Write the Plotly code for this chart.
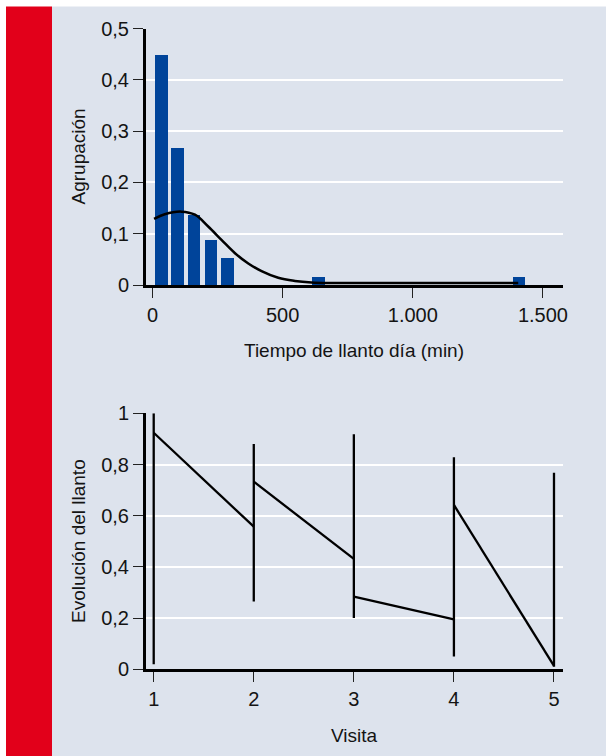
import plotly.graph_objects as go

# Histogram of daily crying time (minutes) and fitted curve
bin_centers = [34, 96, 160, 224, 288, 638, 1408]
bin_freq = [0.449, 0.268, 0.137, 0.089, 0.054, 0.016, 0.016]
curve_x = [6, 47, 111, 163, 214, 265, 317, 368, 419, 483, 547, 611, 680, 1000, 1405]
curve_y = [0.129, 0.138, 0.143, 0.137, 0.114, 0.088, 0.062, 0.042, 0.027,
           0.014, 0.008, 0.005, 0.004, 0.004, 0.004]
top_xticks = [0, 500, 1000, 1500]
top_xlabels = ["0", "500", "1.000", "1.500"]
top_yticks = [0, 0.1, 0.2, 0.3, 0.4, 0.5]
top_ylabels = ["0", "0,1", "0,2", "0,3", "0,4", "0,5"]

# Crying evolution per visit: range bars and visit-to-visit segments
visits = [1, 2, 3, 4, 5]
range_low = [0.02, 0.265, 0.20, 0.05, 0.01]
range_high = [1.0, 0.88, 0.918, 0.828, 0.768]
seg_start = [0.924, 0.733, 0.284, 0.642]
seg_end = [0.557, 0.431, 0.195, 0.013]
bot_yticks = [0, 0.2, 0.4, 0.6, 0.8, 1]
bot_ylabels = ["0", "0,2", "0,4", "0,6", "0,8", "1"]

W, H = 606, 756
BG = "#dde3ed"
RED = "#e2001a"
BAR = "#00449a"
INK = "#141414"
FONT = "Liberation Sans, Arial, sans-serif"
TICK_SIZE = 20
TITLE_SIZE = 19

def px_x(x):
    return x / W

def px_y(y):
    return 1 - y / H

fig = go.Figure()

fig.add_trace(go.Bar(
    x=bin_centers, y=bin_freq, width=48,
    marker=dict(color=BAR, line=dict(width=0)),
    xaxis="x", yaxis="y", showlegend=False,
))
fig.add_trace(go.Scatter(
    x=curve_x, y=curve_y, mode="lines",
    line=dict(color="black", width=2.5, shape="spline", smoothing=1),
    xaxis="x", yaxis="y", showlegend=False,
))

for v, lo, hi in zip(visits, range_low, range_high):
    fig.add_trace(go.Scatter(
        x=[v, v], y=[lo, hi], mode="lines",
        line=dict(color="black", width=2.3),
        xaxis="x2", yaxis="y2", showlegend=False,
    ))
for i in range(len(seg_start)):
    fig.add_trace(go.Scatter(
        x=[visits[i], visits[i + 1]], y=[seg_start[i], seg_end[i]], mode="lines",
        line=dict(color="black", width=2.3),
        xaxis="x2", yaxis="y2", showlegend=False,
    ))

axis_common = dict(
    showline=True, linecolor="black", linewidth=3,
    ticks="outside", ticklen=10, tickwidth=1, tickcolor="#222222",
    tickfont=dict(family=FONT, size=TICK_SIZE, color=INK),
    zeroline=False, automargin=False,
)

xdom = [px_x(146), px_x(563)]
fig.update_layout(
    template="none",
    width=W, height=H,
    margin=dict(l=0, r=0, t=0, b=0, pad=0),
    paper_bgcolor="white",
    plot_bgcolor=BG,
    separators=",.",
    bargap=0,
    xaxis=dict(domain=xdom, range=[-25, 1577], tickvals=top_xticks, ticktext=top_xlabels,
               showgrid=False, anchor="y", **axis_common),
    yaxis=dict(domain=[px_y(285), px_y(28.5)], range=[0, 0.5], tickvals=top_yticks,
               ticktext=top_ylabels, showgrid=True, gridcolor="white", gridwidth=1.5,
               anchor="x", **axis_common),
    xaxis2=dict(domain=xdom, range=[0.923, 5.09], tickvals=visits,
                ticktext=[str(v) for v in visits], showgrid=False, anchor="y2", **axis_common),
    yaxis2=dict(domain=[px_y(669.3), px_y(413.3)], range=[0, 1], tickvals=bot_yticks,
                ticktext=bot_ylabels, showgrid=True, gridcolor="white", gridwidth=1.5,
                anchor="x2", **axis_common),
    shapes=[
        dict(type="rect", xref="paper", yref="paper", layer="below",
             x0=px_x(6), x1=px_x(52), y0=0, y1=px_y(6.5),
             fillcolor=RED, line=dict(width=0)),
        dict(type="rect", xref="paper", yref="paper", layer="below",
             x0=px_x(52), x1=1, y0=0, y1=px_y(6.5),
             fillcolor=BG, line=dict(width=0)),
    ],
    annotations=[
        dict(text="Agrupación", xref="paper", yref="paper", x=px_x(78), y=px_y(156.5),
             textangle=-90, showarrow=False, xanchor="center", yanchor="middle",
             font=dict(family=FONT, size=TITLE_SIZE, color=INK)),
        dict(text="Tiempo de llanto día (min)", xref="paper", yref="paper",
             x=px_x(354), y=px_y(350), showarrow=False, xanchor="center", yanchor="middle",
             font=dict(family=FONT, size=TITLE_SIZE, color=INK)),
        dict(text="Evolución del llanto", xref="paper", yref="paper", x=px_x(78), y=px_y(541),
             textangle=-90, showarrow=False, xanchor="center", yanchor="middle",
             font=dict(family=FONT, size=TITLE_SIZE, color=INK)),
        dict(text="Visita", xref="paper", yref="paper", x=px_x(354), y=px_y(735),
             showarrow=False, xanchor="center", yanchor="middle",
             font=dict(family=FONT, size=TITLE_SIZE, color=INK)),
    ],
)

fig.write_html("out.html")
